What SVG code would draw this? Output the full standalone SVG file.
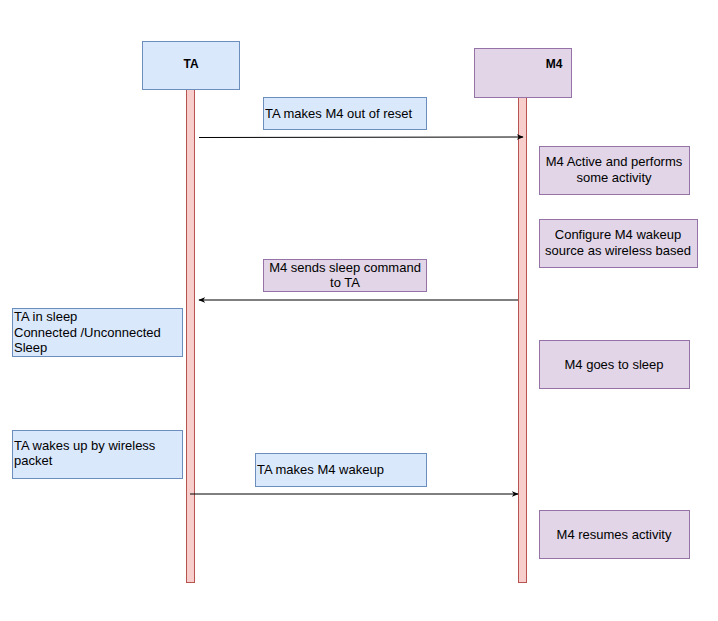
<svg xmlns="http://www.w3.org/2000/svg" width="718" height="621" viewBox="0 0 718 621">
  <style>
    text { font-family: "Liberation Sans", Arial, sans-serif; font-size: 13px; fill: #000; }
    .blue { fill: #dae8fc; stroke: #6c8ebf; stroke-width: 1; }
    .purple { fill: #e1d5e7; stroke: #9673a6; stroke-width: 1; }
    .life { fill: #f8cecc; stroke: #b85450; stroke-width: 1; }
    .hdr { font-weight: bold; font-size: 12px; }
    .mid { text-anchor: middle; }
    .msg { stroke: #000; stroke-width: 1; fill: none; marker-end: url(#arrow); }
  </style>
  <defs>
    <marker id="arrow" viewBox="0 0 10 10" refX="9" refY="5" markerWidth="7" markerHeight="7" orient="auto" markerUnits="userSpaceOnUse">
      <path d="M0,1 L10,5 L0,9 L3,5 Z" fill="#000"/>
    </marker>
  </defs>
  <rect width="718" height="621" fill="#fff"/>

  <!-- lifelines -->
  <g id="ta">
    <rect class="life" x="186.5" y="89.5" width="8" height="493"/>
    <rect class="blue" x="142.5" y="41.5" width="97" height="48"/>
    <text class="hdr mid" x="191" y="68">TA</text>
  </g>
  <g id="m4">
    <rect class="life" x="518.5" y="97.5" width="8" height="485"/>
    <rect class="purple" x="474.5" y="48.5" width="97" height="49"/>
    <text class="hdr mid" x="554" y="68">M4</text>
  </g>

  <!-- messages -->
  <g id="connectors">
    <path class="msg" d="M199,137.5 L523,137"/>
    <path class="msg" d="M518,300 L199,300"/>
    <path class="msg" d="M190,494 L518,494"/>
  </g>

  <!-- notes -->
  <g id="msg-reset">
    <rect class="blue" x="263.5" y="97.5" width="163" height="32"/>
    <text x="265" y="118">TA makes M4 out of reset</text>
  </g>
  <g id="m4-active">
    <rect class="purple" x="539.5" y="146.5" width="150" height="48"/>
    <text class="mid" x="614" y="166">M4 Active and performs</text>
    <text class="mid" x="614" y="182">some activity</text>
  </g>
  <g id="m4-config">
    <rect class="purple" x="539.5" y="219.5" width="158" height="48"/>
    <text class="mid" x="618" y="239">Configure M4 wakeup</text>
    <text class="mid" x="618" y="255">source as wireless based</text>
  </g>
  <g id="msg-sleep">
    <rect class="purple" x="263.5" y="259.5" width="163" height="32"/>
    <text class="mid" x="345" y="272">M4 sends sleep command</text>
    <text class="mid" x="345" y="287">to TA</text>
  </g>
  <g id="ta-sleep">
    <rect class="blue" x="12.5" y="308.5" width="170" height="48"/>
    <text x="14" y="321">TA in sleep</text>
    <text x="14" y="337">Connected /Unconnected</text>
    <text x="14" y="352">Sleep</text>
  </g>
  <g id="m4-sleep">
    <rect class="purple" x="539.5" y="340.5" width="150" height="48"/>
    <text class="mid" x="614" y="369">M4 goes to sleep</text>
  </g>
  <g id="ta-wake">
    <rect class="blue" x="12.5" y="430.5" width="170" height="48"/>
    <text x="14" y="450">TA wakes up by wireless</text>
    <text x="14" y="465">packet</text>
  </g>
  <g id="msg-wake">
    <rect class="blue" x="255.5" y="453.5" width="171" height="33"/>
    <text x="257" y="474">TA makes M4 wakeup</text>
  </g>
  <g id="m4-resume">
    <rect class="purple" x="539.5" y="510.5" width="150" height="48"/>
    <text class="mid" x="614" y="539">M4 resumes activity</text>
  </g>
</svg>
